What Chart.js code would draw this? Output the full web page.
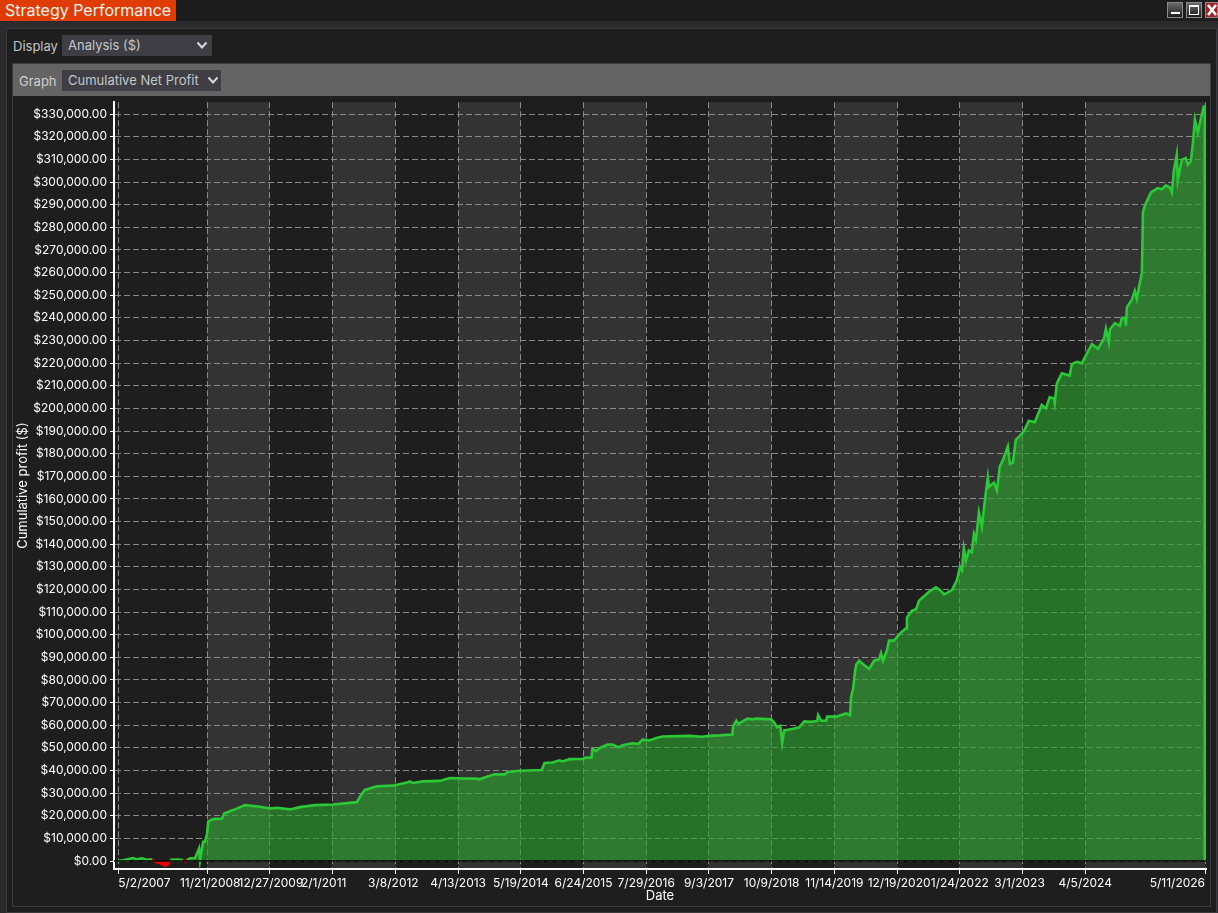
<!DOCTYPE html>
<html>
<head>
<meta charset="utf-8">
<title>Strategy Performance</title>
<script src="https://cdn.jsdelivr.net/npm/chart.js@4"></script>
<style>
  html, body { margin: 0; padding: 0; width: 1218px; height: 913px; overflow: hidden; background: #2b2b2d; font-family: Inter, "Noto Sans", sans-serif; }
  div, span, canvas { position: absolute; box-sizing: border-box; }
  #topbar { left: 0; top: 0; width: 1218px; height: 21px; background: #1d1d1d; }
  #tab { left: 0; top: 0; width: 176px; height: 21px; background: #e03c00; color: #f4f4f4; font-size: 16px; line-height: 20px; padding-left: 5px; white-space: nowrap; }
  #panel { left: 6px; top: 28px; width: 1211px; height: 885px; background: #1e1e1e; border: 1px solid #3a3a3a; }
  #inner { left: 12px; top: 63px; width: 1199px; height: 844px; border: 1px solid #3c3c3c; background: #1e1e1e; }
  #bar { left: 13px; top: 64px; width: 1197px; height: 32px; background: #646464; }
  .lbl { font-size: 13px; color: #c4c4c4; line-height: 16px; white-space: nowrap; }
  .sel { background: #3e3e44; color: #c4c8cc; font-size: 13px; line-height: 21px; padding-left: 6px; height: 21px; white-space: nowrap; }
  .sel svg, .btn svg { position: absolute; }
  .btn { top: 2px; width: 16px; height: 16px; border: 1px solid #8a8a8a; background: linear-gradient(#6a6a6a, #1d1d1d); }
  #chart { left: 13px; top: 92px; }
</style>
</head>
<body>
<div id="topbar"></div>
<div id="tab">Strategy Performance</div>
<div class="btn" style="left:1167px"><svg width="14" height="14"><rect x="3" y="9" width="9" height="2" fill="#fff"/></svg></div>
<div class="btn" style="left:1186px"><svg width="14" height="14"><rect x="2.5" y="2.5" width="9" height="9" fill="none" stroke="#fff"/><rect x="2" y="2" width="10" height="2" fill="#fff"/></svg></div>
<div class="btn" style="left:1205px;width:13px;background:#a3222a"><svg width="12" height="14"><path d="M2 2 L10 12 M10 2 L2 12" stroke="#fff" stroke-width="2.5"/></svg></div>
<div id="panel"></div>
<div id="inner"></div>
<div id="bar"></div>
<div class="lbl" style="left:13px;top:38px">Display</div>
<div class="sel" style="left:62px;top:35px;width:150px">Analysis ($)<svg style="left:134px;top:6px" width="12" height="9"><path d="M1.5 1.5 L6 6.5 L10.5 1.5" fill="none" stroke="#d8d8d8" stroke-width="2"/></svg></div>
<div class="lbl" style="left:19px;top:73px;color:#d0d0d0">Graph</div>
<div class="sel" style="left:62px;top:70px;width:159px">Cumulative Net Profit<svg style="left:145px;top:6px" width="12" height="9"><path d="M1.5 1.5 L6 6.5 L10.5 1.5" fill="none" stroke="#d8d8d8" stroke-width="2"/></svg></div>
<canvas id="chart" width="1197" height="813"></canvas>

<script>
// x axis: days since the first trade date
const xTickDays = [0, 569, 970, 1371, 1772, 2173, 2574, 2975, 3376, 3777, 4178, 4579, 4980, 5381, 5782, 6183, 6949];
const xTickLabels = ["5/2/2007", "11/21/2008", "12/27/2009", "2/1/2011", "3/8/2012", "4/13/2013", "5/19/2014", "6/24/2015", "7/29/2016", "9/3/2017", "10/9/2018", "11/14/2019", "12/19/2020", "1/24/2022", "3/1/2023", "4/5/2024", "5/11/2026"];
const yTickValues = [0, 10000, 20000, 30000, 40000, 50000, 60000, 70000, 80000, 90000, 100000, 110000, 120000, 130000, 140000, 150000, 160000, 170000, 180000, 190000, 200000, 210000, 220000, 230000, 240000, 250000, 260000, 270000, 280000, 290000, 300000, 310000, 320000, 330000];

const profitDays = [
  0, 45, 96, 115, 153, 185, 217, 236, 268, 300, 319, 332, 383, 415, 428, 440, 460, 492, 517, 523,
  543, 555, 568, 575, 606, 664, 677, 734, 811, 907, 970, 1015, 1098, 1162, 1258, 1373, 1526, 1551, 1577, 1653,
  1756, 1851, 1864, 1883, 1947, 2056, 2119, 2183, 2292, 2311, 2356, 2407, 2471, 2490, 2566, 2707, 2726, 2777, 2822, 2841,
  2886, 2969, 2988, 3026, 3032, 3058, 3077, 3128, 3160, 3198, 3224, 3288, 3326, 3352, 3396, 3441, 3479, 3588, 3652, 3735,
  3779, 3843, 3926, 3932, 3952, 3964, 3990, 4022, 4054, 4079, 4175, 4194, 4213, 4233, 4245, 4258, 4309, 4354, 4386, 4430,
  4469, 4475, 4494, 4526, 4533, 4590, 4654, 4679, 4686, 4699, 4711, 4718, 4737, 4769, 4801, 4833, 4865, 4877, 4890, 4916,
  4928, 4960, 5005, 5037, 5043, 5075, 5101, 5120, 5184, 5228, 5254, 5280, 5299, 5331, 5363, 5382, 5395, 5407, 5420, 5439,
  5458, 5471, 5484, 5503, 5522, 5541, 5560, 5567, 5599, 5618, 5637, 5656, 5688, 5701, 5720, 5739, 5771, 5790, 5822, 5860,
  5905, 5931, 5956, 5982, 5988, 6001, 6033, 6084, 6097, 6129, 6161, 6194, 6226, 6264, 6303, 6315, 6334, 6341, 6373, 6405,
  6417, 6437, 6443, 6449, 6481, 6500, 6513, 6526, 6545, 6552, 6564, 6603, 6647, 6673, 6698, 6724, 6737, 6749, 6768, 6775,
  6800, 6826, 6839, 6858, 6871, 6884, 6903, 6922, 6941, 6947, 6947
];
const profitValues = [
  0, 500, 1300, 800, 1200, 500, 800, -300, -1000, -2000, -1500, 500, 600, 400, -300, 500, 1200, 1300, 5600, 300,
  8500, 8500, 12000, 17400, 18500, 18800, 21000, 22500, 24700, 24000, 23200, 23500, 22800, 23800, 24700, 25000, 26000, 29000, 31400, 33000,
  33300, 34800, 35200, 34500, 35200, 35400, 36700, 36500, 36400, 36100, 37200, 38300, 38300, 39300, 39900, 40200, 43300, 43500, 44500, 44000,
  45000, 45100, 45700, 45700, 49600, 48600, 49900, 51500, 51500, 50200, 51200, 52000, 51700, 53600, 53300, 54400, 55000, 55200, 55300, 54900,
  55300, 55500, 55900, 59700, 62000, 60600, 61600, 62900, 62600, 62900, 62600, 61200, 59100, 59700, 52200, 57700, 58300, 59100, 61700, 61500,
  61900, 64500, 62000, 62000, 63800, 63800, 65200, 64500, 72500, 76300, 83800, 86600, 88500, 86600, 84900, 88500, 89100, 91800, 88500, 93200,
  97400, 97400, 101000, 102800, 107600, 110600, 111200, 115000, 119000, 120900, 119700, 117800, 118500, 119700, 124100, 130000, 128500, 138000, 132800, 137200,
  136500, 144500, 141900, 154000, 147700, 159100, 169600, 165300, 167200, 163800, 174500, 177000, 183200, 175500, 176000, 186100, 188300, 189800, 194500, 193900,
  201500, 200000, 205000, 204400, 202200, 210900, 215500, 214500, 219600, 220600, 219900, 224300, 228400, 226300, 230900, 235200, 229200, 235000, 237700, 236500,
  240000, 240000, 236500, 244700, 248000, 251900, 248300, 253400, 259900, 286700, 289600, 295400, 297300, 296800, 298600, 297600, 295400, 304800, 312100, 300900,
  309900, 310600, 307700, 309200, 317100, 327600, 321800, 328000, 333400, 333400, 0
];

const COLORS = {
  band: "#333333",
  grid: "#8a8a8a",
  axis: "#ffffff",
  line: "#2bc935",
  fill: "rgba(45,165,49,0.62)",
  loss: "#e80000",
};

const money = v => "$" + v.toLocaleString("en-US", { minimumFractionDigits: 2, maximumFractionDigits: 2 });

// the original app nudges a few crowded date labels sideways
const labelNudge = { 1: 3, 2: 1, 3: -9, 4: -2, 12: 2, 14: -3 };

// alternate shaded columns between date ticks, and the black zero line
const plotDecor = {
  id: "plotDecor",
  afterLayout(chart) {
    const items = chart.scales.x.getLabelItems(chart.chartArea);
    Object.keys(labelNudge).forEach(i => { items[i].options.translation[0] += labelNudge[i]; });
  },
  beforeDraw(chart) {
    const { ctx, chartArea: a, scales: { x } } = chart;
    ctx.save();
    ctx.fillStyle = COLORS.band;
    for (let i = 1; i + 1 < xTickDays.length; i += 2) {
      const l = x.getPixelForValue(xTickDays[i]);
      const r = x.getPixelForValue(xTickDays[i + 1]);
      ctx.fillRect(l, a.top, r - l, a.bottom - a.top);
    }
    ctx.restore();
  },
  afterDatasetsDraw(chart) {
    const { ctx, chartArea: a, scales: { y } } = chart;
    const zero = y.getPixelForValue(0);
    ctx.save();
    ctx.strokeStyle = "#000";
    ctx.lineWidth = 1.5;
    ctx.beginPath();
    ctx.moveTo(a.left, zero);
    ctx.lineTo(a.right, zero);
    ctx.stroke();
    ctx.restore();
  },
};

new Chart(document.getElementById("chart"), {
  type: "line",
  data: {
    datasets: [{
      data: profitDays.map((d, i) => ({ x: d, y: profitValues[i] })),
      borderColor: COLORS.line,
      borderWidth: 2.6,
      pointRadius: 0,
      tension: 0,
      fill: { target: "origin", above: COLORS.fill, below: COLORS.loss },
      segment: { borderColor: c => (c.p0.parsed.y < 0 || c.p1.parsed.y < 0 ? COLORS.loss : undefined) },
    }],
  },
  options: {
    responsive: false,
    animation: false,
    parsing: false,
    layout: { padding: { top: 0, right: 4, left: 0, bottom: 0 } },
    plugins: { legend: { display: false }, tooltip: { enabled: false } },
    scales: {
      x: {
        type: "linear",
        min: -27,
        max: 6955,
        afterBuildTicks: s => { s.ticks = xTickDays.map(value => ({ value })); },
        afterFit: s => { s.height = 36; },
        grid: { color: COLORS.grid, tickColor: COLORS.axis, tickLength: 5, tickBorderDash: [] },
        border: { color: COLORS.axis, width: 2, dash: [6, 3] },
        ticks: {
          color: "#ffffff",
          font: { family: "Inter", size: 12 },
          maxRotation: 0,
          autoSkip: false,
          align: "inner",
          padding: 2,
          callback: v => xTickLabels[xTickDays.indexOf(v)],
        },
        title: { display: true, text: "Date", color: "#ffffff", font: { family: "Inter", size: 13 }, padding: { top: 0, bottom: 1 } },
      },
      y: {
        type: "linear",
        min: -3534,
        max: 335300,
        afterBuildTicks: s => { s.ticks = yTickValues.map(value => ({ value })); },
        afterFit: s => { s.width = 101; },
        grid: { color: COLORS.grid, tickColor: COLORS.axis, tickLength: 4, tickBorderDash: [] },
        border: { color: COLORS.axis, width: 2, dash: [6, 3] },
        ticks: {
          color: "#ffffff",
          font: { family: "Inter", size: 12 },
          autoSkip: false,
          padding: 3,
          callback: v => money(v),
        },
        title: { display: true, text: "Cumulative profit ($)", color: "#ffffff", font: { family: "Inter", size: 13 }, padding: { top: 2, bottom: 0 } },
      },
    },
  },
  plugins: [plotDecor],
});
</script>
</body>
</html>
